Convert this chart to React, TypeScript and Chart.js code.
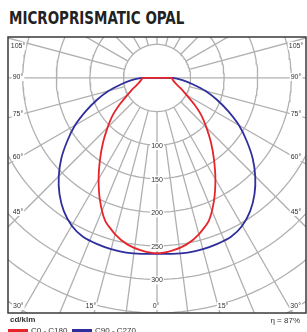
import React, { useEffect, useRef } from "react";
import { Chart, registerables } from "chart.js";

Chart.register(...registerables);

// ---- data ----
const TITLE = "MICROPRISMATIC OPAL";
const UNIT = "cd/klm";
const ETA = "η = 87%";
const SERIES_NAMES = ["C0 - C180", "C90 - C270"];
const ANGLES = [0, 5, 10, 15, 20, 25, 30, 35, 40, 45, 50, 55, 60, 65, 70, 75, 80, 85, 90];
const C0_C180 = [261, 258, 252, 241, 226, 201, 174, 148, 125, 104, 86, 67, 51, 41, 33, 28, 25, 23, 22];
const C90_C270 = [262, 263, 264, 264, 263, 261, 254, 242, 226, 207, 186, 163, 141, 117, 95, 75, 54, 38, 23];
const RING_VALUES = [50, 100, 150, 200, 250, 300, 350, 400, 450];
const RING_LABELS = [100, 150, 200, 250, 300];
const SIDE_TICKS = [45, 60, 75, 90, 105];
const BOTTOM_TICKS = [30, 15, 0, 15, 30];
const BOTTOM_TICK_ANGLES = [-30, -15, 0, 15, 30];
const MAIN_SPOKE_STEP = 15;
const MINOR_SPOKES = [-22.5, -7.5, 7.5, 22.5];

const RED = "#e4262b";
const BLUE = "#2e2f9c";
const GRID = "#b0b0b0";

const rad = (d: number) => (d * Math.PI) / 180;
// angle measured from nadir, positive to the right
const polar = (v: number, a: number) => ({ x: v * Math.sin(rad(a)), y: -v * Math.cos(rad(a)) });

function curve(values: number[]) {
  const pts: { x: number; y: number }[] = [];
  for (let i = ANGLES.length - 1; i >= 0; i--) pts.push(polar(values[i], -ANGLES[i]));
  for (let i = 1; i < ANGLES.length; i++) pts.push(polar(values[i], ANGLES[i]));
  pts.push({ x: 0, y: 0 });
  pts.push(polar(values[values.length - 1], -90));
  return pts;
}

function ring(v: number) {
  const pts: { x: number; y: number }[] = [];
  for (let a = 0; a <= 360; a += 2) pts.push(polar(v, a));
  return pts;
}

function spoke(a: number, r0: number, r1: number) {
  return [polar(r0, a), polar(r1, a)];
}

const labelPlugin = {
  id: "polarLabels",
  afterDraw(chart: any) {
    const { ctx, chartArea, scales } = chart;
    const xs = scales.x;
    const ys = scales.y;
    const cx = xs.getPixelForValue(0);
    const cy = ys.getPixelForValue(0);
    ctx.save();
    ctx.font = "7px 'Liberation Sans', Arial, sans-serif";
    ctx.textAlign = "center";
    ctx.textBaseline = "middle";
    const label = (t: string, x: number, y: number) => {
      const w = ctx.measureText(t).width;
      ctx.fillStyle = "#ffffff";
      ctx.fillRect(x - w / 2 - 1, y - 4, w + 2, 8);
      ctx.fillStyle = "#333333";
      ctx.fillText(t, x, y);
    };
    RING_LABELS.forEach((v) => {
      label(String(v), cx, ys.getPixelForValue(-v) + 1);
    });
    const lx = chartArea.left + 10;
    const rx = chartArea.right - 10;
    SIDE_TICKS.forEach((a) => {
      const dx = cx - lx;
      const y = cy + dx / Math.tan(rad(a)) + (a > 90 ? 5 : a < 60 ? -5 : -1);
      label(a + "°", lx, y);
      label(a + "°", rx, y);
    });
    const by = chartArea.bottom - 7;
    BOTTOM_TICK_ANGLES.forEach((a, i) => {
      const x = cx + (by - cy) * Math.tan(rad(a));
      const off = a === 0 ? -1 : Math.sign(a) * (Math.abs(a) > 20 ? 7 : 5);
      label(BOTTOM_TICKS[i] + "°", x + off, by);
    });
    ctx.strokeStyle = "#3a3a3a";
    ctx.lineWidth = 1.5;
    ctx.strokeRect(chartArea.left, chartArea.top, chartArea.right - chartArea.left, chartArea.bottom - chartArea.top);
    ctx.restore();
  },
};

export default function App() {
  const ref = useRef<HTMLCanvasElement | null>(null);
  useEffect(() => {
    if (!ref.current) return;
    const gridSets: any[] = [];
    RING_VALUES.forEach((v) =>
      gridSets.push({ data: ring(v), borderColor: GRID, borderWidth: 1.3, order: 5 })
    );
    for (let a = 0; a < 360; a += MAIN_SPOKE_STEP) {
      const r0 = a === 90 || a === 270 ? 0 : RING_VALUES[0];
      gridSets.push({ data: spoke(a, r0, 600), borderColor: GRID, borderWidth: 1.3, order: 5 });
    }
    MINOR_SPOKES.forEach((a) =>
      gridSets.push({ data: spoke(a, RING_VALUES[1], 600), borderColor: GRID, borderWidth: 1.3, order: 5 })
    );
    const chart = new Chart(ref.current, {
      type: "scatter",
      data: {
        datasets: [
          { label: SERIES_NAMES[0], data: curve(C0_C180), borderColor: RED, borderWidth: 1.8, order: 0 },
          { label: SERIES_NAMES[1], data: curve(C90_C270), borderColor: BLUE, borderWidth: 1.8, order: 1 },
          ...gridSets,
        ].map((d: any) => ({ ...d, showLine: true, pointRadius: 0, pointHoverRadius: 0, tension: d.order < 2 ? 0.2 : 0, clip: 0, fill: false })),
      },
      options: {
        responsive: false,
        animation: false,
        devicePixelRatio: 1,
        layout: { padding: { left: 8, right: 1, top: 37, bottom: 19 } },
        plugins: { legend: { display: false }, tooltip: { enabled: false } },
        scales: {
          x: { type: "linear", min: -222, max: 222, display: false },
          y: { type: "linear", min: -350, max: 61, display: false },
        },
      },
      plugins: [labelPlugin],
    });
    return () => chart.destroy();
  }, []);

  return (
    <div style={{ position: "absolute", left: 0, top: 0, width: 307, height: 332, overflow: "hidden", background: "#fff", fontFamily: "'Liberation Sans', Arial, sans-serif" }}>
      <div style={{ position: "absolute", left: 9, top: 10, fontFamily: "'Liberation Sans Narrow', 'Arial Narrow', 'DejaVu Sans Condensed', sans-serif", fontWeight: 700, fontSize: 17, lineHeight: "17px", color: "#222", whiteSpace: "nowrap", transform: "scaleX(0.88)", transformOrigin: "0 0" }}>
        {TITLE}
      </div>
      <canvas ref={ref} width={307} height={332} style={{ position: "absolute", left: 0, top: 0 }} />
      <div style={{ position: "absolute", left: 10, top: 315, fontSize: 8, fontWeight: 700, color: "#333", lineHeight: "9px" }}>{UNIT}</div>
      <div style={{ position: "absolute", right: 7, top: 316, fontSize: 8, color: "#333", lineHeight: "9px" }}>{ETA}</div>
      <div style={{ position: "absolute", left: 8, top: 329, width: 20, height: 3, background: RED }} />
      <div style={{ position: "absolute", left: 31, top: 326, fontSize: 8, color: "#333", lineHeight: "9px" }}>{SERIES_NAMES[0]}</div>
      <div style={{ position: "absolute", left: 72, top: 329, width: 20, height: 3, background: BLUE }} />
      <div style={{ position: "absolute", left: 95, top: 326, fontSize: 8, color: "#333", lineHeight: "9px" }}>{SERIES_NAMES[1]}</div>
    </div>
  );
}
